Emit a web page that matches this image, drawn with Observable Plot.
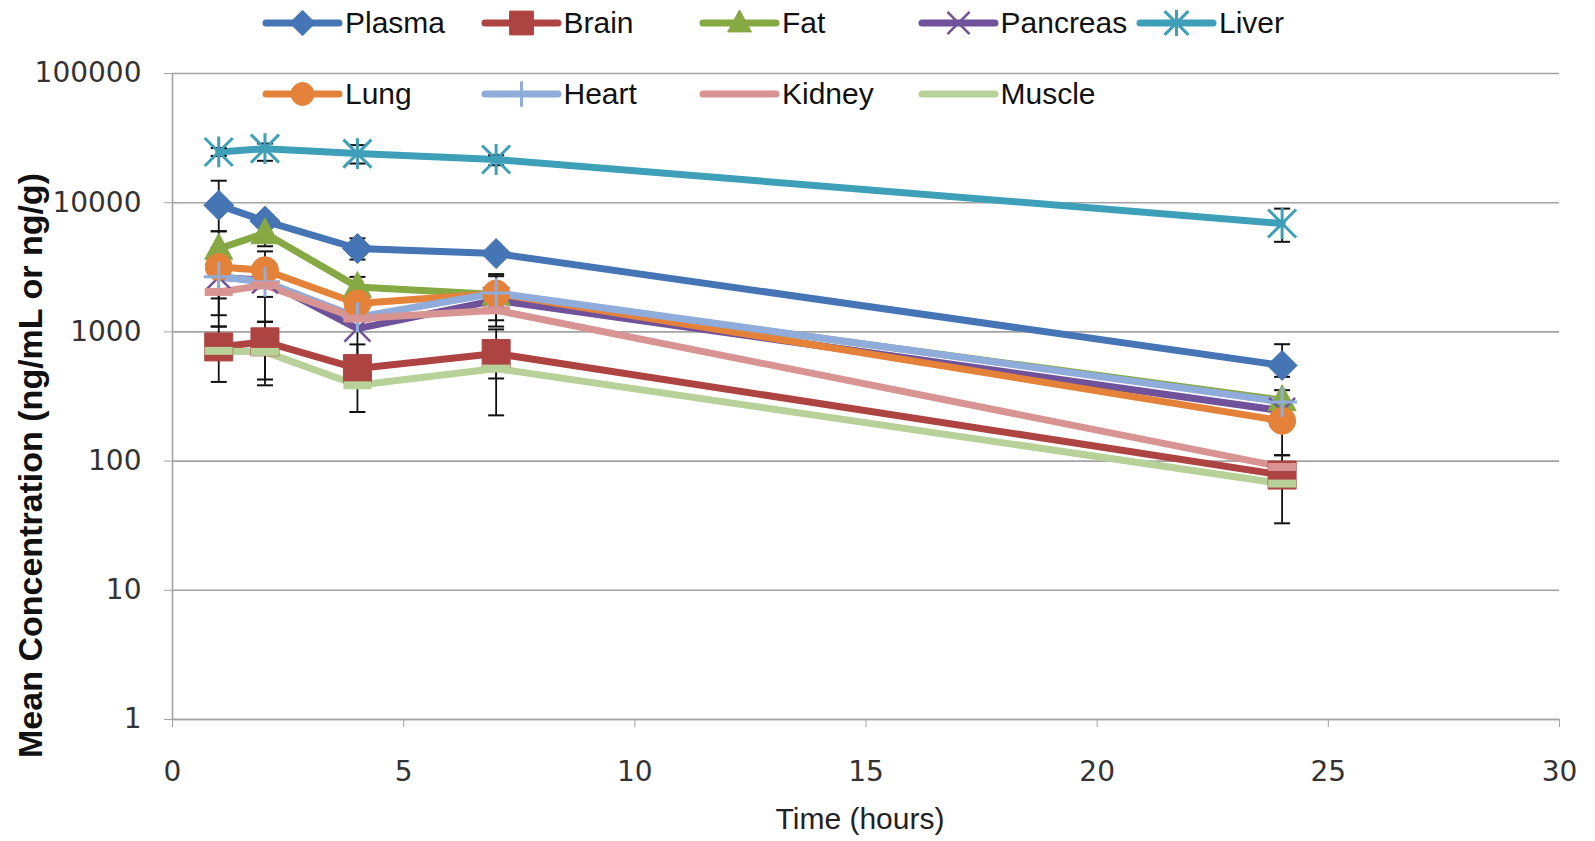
<!DOCTYPE html>
<html><head><meta charset="utf-8">
<script src="https://cdn.jsdelivr.net/npm/d3@7"></script>
<script src="https://cdn.jsdelivr.net/npm/@observablehq/plot@0.6"></script>
<style>
body{margin:0;background:#fff;}
#wrap{position:relative;width:1595px;height:841px;}
#legend{position:absolute;left:0;top:0;width:100%;height:120px;pointer-events:none;font-family:"Liberation Sans",Arial,sans-serif;font-size:30px;color:#111;}
.item{position:absolute;display:flex;align-items:center;height:40px;}
.item svg{display:block;overflow:visible}
.item span{margin-left:6px;white-space:nowrap}
</style></head><body><div id="wrap"><div id="chart"></div><div id="legend"></div></div>
<script>
// ---- data ----
const times = [1, 2, 4, 7, 24];
const seriesNames = ["Plasma", "Brain", "Fat", "Pancreas", "Liver", "Lung", "Heart", "Kidney", "Muscle"];
const plasma   = [9570, 7200, 4420, 4040, 550];
const brain    = [765, 838, 520, 680, 78];
const fat      = [4400, 5800, 2230, 1950, 296];
const pancreas = [2650, 2500, 1060, 1760, 245];
const liver    = [24700, 26200, 24000, 21600, 6900];
const lung     = [3180, 3000, 1660, 1980, 205];
const heart    = [2670, 2440, 1300, 2000, 287];
const kidney   = [2040, 2300, 1270, 1470, 90];
const muscle   = [713, 700, 386, 520, 67];
const seriesValues = [plasma, brain, fat, pancreas, liver, lung, heart, kidney, muscle];
const colors = ["#4575B5", "#AE4441", "#86A944", "#6F529A", "#3EA0B8", "#E5823A", "#8FACDA", "#D89492", "#B7D198"];
const markers = ["diamond", "square", "triangle", "times", "star", "circle", "plus", "dash", "dash"];

// error bars: [time, low, high]
const plasmaErr   = [[1, 6010, 14800], [4, 3630, 5300], [24, 449, 803]];
const brainErr    = [[1, 410, 1100], [2, 428, 1200], [4, 240, 800], [7, 226, 1045], [24, 33, 111]];
const fatErr      = [[1, 3500, 6010], [2, 4600, 7000], [4, 1900, 2665], [24, 250, 354]];
const pancreasErr = [[4, 600, 1700]];
const liverErr    = [[1, 23000, 26500], [2, 21100, 28700], [4, 20100, 27900], [7, 19500, 23300], [24, 4980, 9000]];
const lungErr     = [[1, 1815, 4500], [2, 1866, 4200], [7, 1230, 2700], [24, 111, 300]];
const heartErr    = [[1, 1346, 3500], [2, 1195, 3400], [7, 1100, 2800]];
const kidneyErr   = [[1, 1100, 2900]];
const muscleErr   = [[2, 386, 1000], [7, 436, 600]];
const seriesErrors = [plasmaErr, brainErr, fatErr, pancreasErr, liverErr, lungErr, heartErr, kidneyErr, muscleErr];

const yTicks = [1, 10, 100, 1000, 10000, 100000];
const xTicks = [0, 5, 10, 15, 20, 25, 30];
const xTitle = "Time (hours)";
const yTitle = "Mean Concentration (ng/mL or ng/g)";

// ---- marker shapes ----
const shapes = {
  diamond: (c, r) => { c.moveTo(0, -r); c.lineTo(r, 0); c.lineTo(0, r); c.lineTo(-r, 0); c.closePath(); },
  square: (c, r) => { c.rect(-r, -r, 2 * r, 2 * r); },
  triangle: (c, r) => { c.moveTo(0, -r * 1.1); c.lineTo(r, r * 0.75); c.lineTo(-r, r * 0.75); c.closePath(); },
  times: (c, r) => { c.moveTo(-r, -r); c.lineTo(r, r); c.moveTo(-r, r); c.lineTo(r, -r); },
  star: (c, r) => { c.moveTo(-r, -r); c.lineTo(r, r); c.moveTo(-r, r); c.lineTo(r, -r); c.moveTo(0, -r * 1.1); c.lineTo(0, r * 1.1); },
  circle: (c, r) => { c.moveTo(r, 0); c.arc(0, 0, r, 0, 2 * Math.PI); },
  plus: (c, r) => { c.moveTo(-r, 0); c.lineTo(r, 0); c.moveTo(0, -r); c.lineTo(0, r); },
  dash: (c, r) => { c.rect(-r, -4, 2 * r, 8); },
  cap: (c, r) => { c.moveTo(-r, 0); c.lineTo(r, 0); }
};
const filled = {diamond: true, square: true, triangle: true, circle: true, dash: true};
const radius = {diamond: 15, square: 14, triangle: 14, times: 13, star: 14, circle: 13.5, plus: 15, dash: 14, cap: 8};
const strokeW = {times: 2.5, star: 3, plus: 3, dash: 0};
function symbolOf(name) { return {draw(ctx, size) { shapes[name](ctx, Math.sqrt(size / Math.PI)); }}; }

// ---- tables ----
const rows = [];
seriesNames.forEach((s, i) => times.forEach((t, j) => rows.push({series: s, time: t, value: seriesValues[i][j]})));
const errRows = [];
const capRows = [];
seriesNames.forEach((s, i) => seriesErrors[i].forEach(([t, lo, hi]) => {
  errRows.push({series: s, time: t, lo, hi});
  capRows.push({series: s, time: t, v: lo}, {series: s, time: t, v: hi});
}));

const marks = [
  Plot.gridY(yTicks, {stroke: "#a3a3a3", strokeOpacity: 1, strokeWidth: 1.6}),
  Plot.ruleX([0], {stroke: "#a3a3a3", strokeWidth: 1.6}),
  Plot.ruleY([1], {stroke: "#a3a3a3", strokeWidth: 1.6}),
  Plot.axisY(yTicks, {tickSize: 8, tickPadding: 23, tickFormat: d => String(d), fontSize: 28, fontFamily: "DejaVu Sans", stroke: "#a3a3a3", fill: "#333", label: null}),
  Plot.axisX(xTicks, {tickSize: 8, tickPadding: 34, tickFormat: d => String(d), fontSize: 28, fontFamily: "DejaVu Sans", stroke: "#a3a3a3", fill: "#333", label: null}),
  Plot.text([xTitle], {frameAnchor: "bottom", dx: -6, dy: 109, fontSize: 30, fontFamily: "Liberation Sans", fill: "#222"}),
  Plot.text([yTitle], {frameAnchor: "left", textAnchor: "middle", rotate: -90, dx: -141, dy: 69, fontSize: 34, fontWeight: "bold", fontFamily: "Liberation Sans", fill: "#111"})
];
seriesNames.forEach((s, i) => {
  marks.push(Plot.line(rows.filter(d => d.series === s), {x: "time", y: "value", stroke: colors[i], strokeWidth: 7, strokeLinejoin: "round"}));
});
marks.push(Plot.ruleX(errRows, {x: "time", y1: "lo", y2: "hi", stroke: "#111", strokeWidth: 1.8}));
marks.push(Plot.dot(capRows, {x: "time", y: "v", r: radius.cap, symbol: symbolOf("cap"), stroke: "#111", fill: "none", strokeWidth: 2}));
seriesNames.forEach((s, i) => {
  const m = markers[i];
  marks.push(Plot.dot(rows.filter(d => d.series === s), {
    x: "time", y: "value", r: radius[m], symbol: symbolOf(m),
    fill: filled[m] ? colors[i] : "none", stroke: colors[i], strokeWidth: strokeW[m] ?? 1
  }));
});

const chart = Plot.plot({
  width: 1595, height: 841,
  marginLeft: 172, marginRight: 36, marginTop: 73, marginBottom: 122,
  style: {background: "#fff", overflow: "visible"},
  x: {domain: [0, 30]},
  y: {type: "log", domain: [1, 100000]},
  marks
});
document.getElementById("chart").appendChild(chart);

// ---- legend ----
const legend = document.getElementById("legend");
seriesNames.forEach((s, i) => {
  const col = i < 5 ? i : i - 5;
  const row = i < 5 ? 0 : 1;
  const div = document.createElement("div");
  div.className = "item";
  div.style.left = (266 + col * 218.5) + "px";
  div.style.top = (row === 0 ? 2.5 : 73.5) + "px";
  const m = markers[i];
  const p = d3.path();
  if (m !== "dash") shapes[m](p, radius[m] * 0.85);
  div.innerHTML = `<svg width="73" height="36" viewBox="0 0 73 36">
    <line x1="0" x2="73" y1="18" y2="18" stroke="${colors[i]}" stroke-width="7" stroke-linecap="round"/>
    <path transform="translate(36.5,18)" d="${p.toString()}" fill="${filled[m] ? colors[i] : "none"}" stroke="${colors[i]}" stroke-width="${strokeW[m] ?? 1}"/>
  </svg><span>${s}</span>`;
  legend.appendChild(div);
});
</script></body></html>
